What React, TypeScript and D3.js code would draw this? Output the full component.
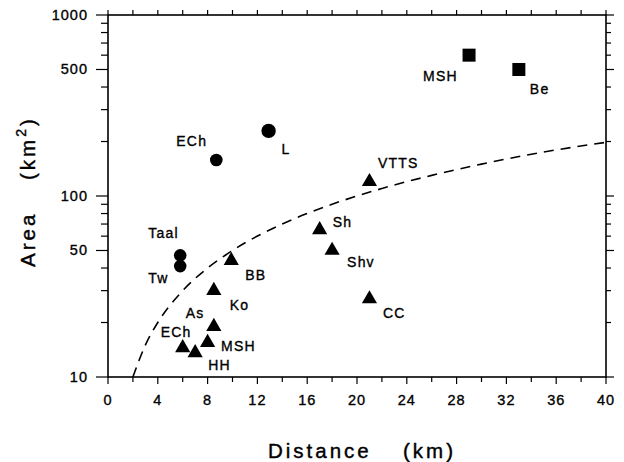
import React, { useEffect, useRef } from "react";
import * as d3 from "d3";

// circles, squares and triangles
const circleNames = ["ECh", "L", "Taal", "Tw"];
const circleDist = [8.7, 12.9, 5.8, 5.8];
const circleArea = [158, 229, 47, 41];

const squareNames = ["MSH", "Be"];
const squareDist = [29, 33];
const squareArea = [600, 500];

const triNames = ["VTTS", "Sh", "Shv", "CC", "BB", "Ko", "As", "ECh", "MSH", "HH"];
const triDist = [21, 17, 18, 21, 9.9, 8.5, 8.5, 6, 8, 7];
const triArea = [120, 65, 50, 27, 44, 30, 19, 14.5, 15.5, 13.6];

// dashed boundary curve
const curveDist = [2, 3, 4, 6, 8, 10, 14, 18, 22, 26, 30, 35, 40];
const curveArea = [10, 15, 20, 30, 40, 50, 70, 90, 110, 130, 150, 175, 198];

const xTickLabels = [0, 4, 8, 12, 16, 20, 24, 28, 32, 36, 40];
const yTickLabels = [10, 50, 100, 500, 1000];

// label offsets in px (dx = left edge, dy = baseline) relative to the marker
const circleLabelOff = [[-40, -14], [13, 23], [-32, -17], [-32, 17]];
const squareLabelOff = [[-46, 26], [11, 24.5]];
const triLabelOff = [
  [8.5, -14], [13, -3], [15, 16.5], [13.5, 19], [14, 19.5],
  [16, 19], [-28, -8.5], [-22, -11], [13.5, 8.5], [13, 17],
];

const FONT = "'Liberation Sans', Arial, Helvetica, sans-serif";

function Chart() {
  const ref = useRef<SVGSVGElement | null>(null);

  useEffect(() => {
    const svg = d3.select(ref.current);
    svg.selectAll("*").remove();

    const left = 108, right = 606, top = 15, bottom = 377;
    const x = d3.scaleLinear().domain([0, 40]).range([left, right]);
    const y = d3.scaleLog().domain([10, 1000]).range([bottom, top]);

    const g = svg.append("g");

    // frame
    g.append("rect")
      .attr("x", left).attr("y", top)
      .attr("width", right - left).attr("height", bottom - top)
      .attr("fill", "none").attr("stroke", "#000").attr("stroke-width", 1.6);

    // x ticks (bottom + top)
    const xMinor = d3.range(0, 41, 2);
    g.selectAll(".xt")
      .data(xMinor)
      .join("line")
      .attr("x1", (d) => x(d)).attr("x2", (d) => x(d))
      .attr("y1", bottom).attr("y2", (d) => bottom + (d % 4 === 0 ? 7 : 5))
      .attr("stroke", "#000").attr("stroke-width", 1.2);
    g.selectAll(".xtt")
      .data(xMinor)
      .join("line")
      .attr("x1", (d) => x(d)).attr("x2", (d) => x(d))
      .attr("y1", top).attr("y2", top - 5)
      .attr("stroke", "#000").attr("stroke-width", 1.2);

    g.selectAll(".xl")
      .data(xTickLabels)
      .join("text")
      .attr("x", (d) => x(d))
      .attr("y", 405)
      .attr("text-anchor", "middle")
      .attr("font-family", FONT)
      .attr("font-size", 14.5)
      .attr("letter-spacing", 1)
      .attr("stroke", "#000").attr("stroke-width", 0.35)
      .text((d) => d);

    // y ticks (left + right), log minor ticks
    const yTicks: number[] = [];
    [10, 100].forEach((dec) => {
      for (let k = 1; k <= 10; k++) yTicks.push(dec * k);
    });
    const uniq = Array.from(new Set(yTicks));
    const isMajor = (d: number) => yTickLabels.includes(d);
    g.selectAll(".yt")
      .data(uniq)
      .join("line")
      .attr("x1", left).attr("x2", (d) => left - (isMajor(d) ? 12 : 7))
      .attr("y1", (d) => y(d)).attr("y2", (d) => y(d))
      .attr("stroke", "#000").attr("stroke-width", 1.2);
    g.selectAll(".ytr")
      .data(uniq)
      .join("line")
      .attr("x1", right).attr("x2", (d) => right + (isMajor(d) ? 8 : 5))
      .attr("y1", (d) => y(d)).attr("y2", (d) => y(d))
      .attr("stroke", "#000").attr("stroke-width", 1.2);

    g.selectAll(".yl")
      .data(yTickLabels)
      .join("text")
      .attr("x", 88)
      .attr("y", (d) => y(d) + 5)
      .attr("text-anchor", "end")
      .attr("font-family", FONT)
      .attr("font-size", 14.5)
      .attr("letter-spacing", 1)
      .attr("stroke", "#000").attr("stroke-width", 0.35)
      .text((d) => d);

    // dashed curve
    const line = d3
      .line<number>()
      .x((_, i) => x(curveDist[i]))
      .y((d) => y(d))
      .curve(d3.curveMonotoneX);
    g.append("path")
      .attr("d", line(curveArea))
      .attr("fill", "none")
      .attr("stroke", "#000")
      .attr("stroke-width", 1.6)
      .attr("stroke-dasharray", "10,7");

    const labelText = (names: string[], xs: number[], ys: number[], off: number[][]) => {
      g.selectAll(null)
        .data(names)
        .join("text")
        .attr("x", (_, i) => x(xs[i]) + off[i][0])
        .attr("y", (_, i) => y(ys[i]) + off[i][1])
        .attr("font-family", FONT)
        .attr("font-size", 14)
        .attr("letter-spacing", 1.2)
        .attr("stroke", "#000").attr("stroke-width", 0.35)
        .text((d) => d);
    };

    // circles
    g.selectAll(".circ")
      .data(circleArea)
      .join("circle")
      .attr("cx", (_, i) => x(circleDist[i]))
      .attr("cy", (d) => y(d))
      .attr("r", (_, i) => (circleNames[i] === "L" ? 7.2 : 6.3))
      .attr("fill", "#000");
    labelText(circleNames, circleDist, circleArea, circleLabelOff);

    // squares
    g.selectAll(".sq")
      .data(squareArea)
      .join("rect")
      .attr("x", (_, i) => x(squareDist[i]) - 6.5)
      .attr("y", (d) => y(d) - 6.5)
      .attr("width", 13).attr("height", 13)
      .attr("fill", "#000");
    labelText(squareNames, squareDist, squareArea, squareLabelOff);

    // triangles
    const tri = d3.symbol().type(d3.symbolTriangle).size(100);
    g.selectAll(".tri")
      .data(triArea)
      .join("path")
      .attr("d", tri)
      .attr("transform", (d, i) => `translate(${x(triDist[i])},${y(d)})`)
      .attr("fill", "#000");
    labelText(triNames, triDist, triArea, triLabelOff);

    // axis titles
    const titleStyle = (t: any) =>
      t.attr("font-family", FONT).attr("font-size", 20.5)
        .attr("letter-spacing", 3)
        .attr("stroke", "#000").attr("stroke-width", 0.4);
    titleStyle(g.append("text").attr("x", 268).attr("y", 458)).text("Distance");
    titleStyle(g.append("text").attr("x", 403).attr("y", 458)).text("(km)");

    const yt = g.append("g").attr("transform", "translate(35,267) rotate(-90)");
    titleStyle(yt.append("text").attr("x", 0).attr("y", 0)).text("Area");
    const t2 = titleStyle(yt.append("text").attr("x", 87).attr("y", 0));
    t2.append("tspan").text("(km");
    t2.append("tspan").attr("font-size", 14).attr("dy", -9).text("2");
    t2.append("tspan").attr("dy", 9).text(")");
  }, []);

  return (
    <svg
      ref={ref}
      width={624}
      height={462}
      style={{ position: "absolute", left: 0, top: 0, background: "#fff" }}
    />
  );
}

export default function App() {
  return <Chart />;
}
